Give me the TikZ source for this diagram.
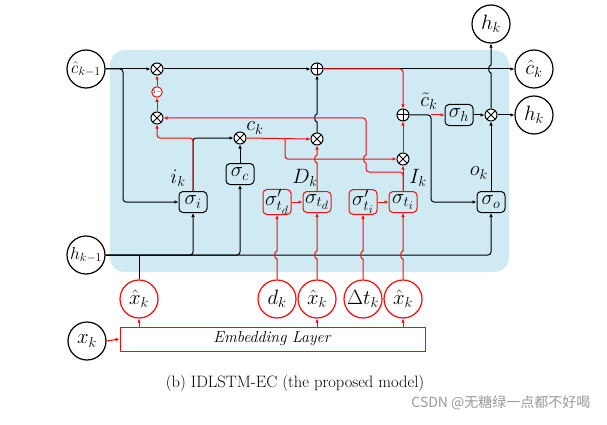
\documentclass[tikz,border=0pt]{standalone}
\usepackage{fontspec}
\newfontfamily\cjkfont{Noto Sans CJK SC}
\usetikzlibrary{arrows.meta}
\definecolor{bg}{RGB}{208,234,244}
\definecolor{myred}{RGB}{250,10,10}
\tikzset{
  lw/.style={line width=1pt},
  arr/.style={lw,-{Latex[length=4pt,width=3.5pt]}},
  rc/.style={rounded corners=3pt},
  big/.style={circle,draw,line width=1.2pt,minimum size=38pt,inner sep=0pt,fill=white,font=\fontsize{20.74}{24}\selectfont},
  bigred/.style={big,draw=myred},
  ot/.style={circle,draw,line width=1pt,minimum size=12pt,inner sep=0pt,fill=white,
    path picture={\draw[line width=1pt] (path picture bounding box.north west)--(path picture bounding box.south east) (path picture bounding box.south west)--(path picture bounding box.north east);}},
  op/.style={circle,draw,line width=1pt,minimum size=12pt,inner sep=0pt,fill=white,
    path picture={\draw[line width=1pt] (path picture bounding box.north)--(path picture bounding box.south) (path picture bounding box.west)--(path picture bounding box.east);}},
  onec/.style={circle,draw=myred,line width=1pt,minimum size=10pt,inner sep=0pt,fill=white,font=\fontsize{6}{7}\selectfont},
  gate/.style={rectangle,rounded corners=4pt,draw,line width=1pt,minimum width=28pt,minimum height=21pt,inner sep=0.5pt,font=\fontsize{20.74}{24}\selectfont},
  rgate/.style={gate,draw=myred},
  lab/.style={inner sep=0pt,font=\fontsize{20.74}{24}\selectfont},
}
\begin{document}
\begin{tikzpicture}[x=1pt,y=-1pt]
\useasboundingbox (0,0) rectangle (607,425);
\fill[bg,rounded corners=15pt] (110,50) rectangle (509,272);

% nodes
\node[big,font=\fontsize{17.28}{20}\selectfont] (ckm1) at (86,69) {$\hat c_{k-1}$};
\node[big,font=\fontsize{17.28}{20}\selectfont] (hkm1) at (86,255) {$h_{k-1}$};
\node[big] (xk) at (87,341) {$x_k$};
\node[big] (hkt) at (491,24) {$h_k$};
\node[big] (ck) at (534,69) {$\hat c_k$};
\node[big] (hkr) at (534,115) {$h_k$};

\node[ot] (om1) at (157,69) {};
\node[onec] (one) at (157,92) {$1-$};
\node[ot] (om2) at (157,118) {};
\node[op] (op) at (317,69) {};
\node[ot] (ock) at (240,138) {};
\node[ot] (od) at (317,139) {};
\node[op] (opc) at (403,115) {};
\node[ot] (oi) at (403,159) {};
\node[ot] (oh) at (491,115) {};

\node[gate] (sh) at (459,115) {$\sigma_h$};
\node[gate] (so) at (491,202) {$\sigma_o$};
\node[gate] (si) at (193,202) {$\sigma_i$};
\node[gate] (sc) at (240,174) {$\sigma_c$};
\node[rgate] (stdp) at (277,202) {$\sigma'_{t_d}$};
\node[rgate] (std) at (317,202) {$\sigma_{t_d}$};
\node[rgate] (stip) at (363,202) {$\sigma'_{t_i}$};
\node[rgate] (sti) at (403,202) {$\sigma_{t_i}$};

\node[bigred] (x1) at (139,299) {$\hat{x}_k$};
\node[bigred] (dk) at (277,299) {$d_k$};
\node[bigred] (x2) at (317,299) {$\hat{x}_k$};
\node[bigred] (dt) at (363,299) {$\Delta t_k$};
\node[bigred] (x3) at (403,299) {$\hat{x}_k$};
\node[draw=myred,line width=1pt,minimum width=305pt,minimum height=24pt,inner sep=0pt,font=\fontsize{16}{18}\selectfont] (emb) at (272.5,339) {\textit{Embedding Layer}};

\node[lab] (lik) at (178,178) {$i_k$};
\node[lab] (lck) at (255,128) {$c_k$};
\node[lab] (ldk) at (305,178) {$D_k$};
\node[lab] (lIk) at (418,178) {$I_k$};
\node[lab] (lok) at (479,173) {$o_k$};
\node[lab] (lct) at (429,101) {$\tilde c_k$};

% black connectors
\draw[arr] (ckm1.east) -- (om1.west);
\draw[arr,rc] (ckm1.east) -- (123,69) -- (123,202) -- (si.west);
\draw[arr] (om1.east) -- (op.west);
\draw[arr] (op.east) -- (ck.west);
\draw[arr,rc] (hkm1.east) -| (si.south);
\draw[arr,rc] (hkm1.east) -| (sc.south);
\draw[arr,rc] (hkm1.east) -| (so.south);
\draw[lw] (x1.north) -- (139,255);
\draw[arr] (sc.north) -- (ock.south);
\draw[arr,rc] (si.north) |- (ock.west);
\draw[arr] (od.north) -- (317,122) to[out=180,in=180] (317,114) -- (op.south);
\draw[arr,rc] (opc.east) -- (431,115) |- (so.west);
\draw[arr] (sh.east) -- (oh.west);
\draw[arr] (so.north) -- (oh.south);
\draw[arr] (oh.east) -- (hkr.west);
\draw[arr] (oh.north) -- (491,73) to[out=180,in=180] (491,65) -- (hkt.south);

% red connectors
\draw[arr,myred] (431,115) -- (sh.west);
\draw[arr,myred] (om2.north) -- (one.south);
\draw[arr,myred] (one.north) -- (om1.south);
\draw[arr,myred,rc] (si.north) -- (193,138) -| (om2.south);
\draw[arr,myred] (ock.east) -- (od.west);
\draw[arr,myred,rc] (285,138) |- (oi.west);
\draw[arr,myred] (std.north) -- (317,163) to[out=180,in=180] (317,155) -- (od.south);
\draw[arr,myred] (oi.north) -- (opc.south);
\draw[arr,myred,rc] (op.east) -| (opc.north);
\draw[arr,myred] (sti.north) -- (oi.south);
\draw[lw,myred,rc] (sti.north) -- (403,172) -- (366,172) -- (366,163);
\draw[arr,myred] (366,163) to[out=180,in=180] (366,155) [rc] -- (366,118) -- (om2.east);
\draw[arr,myred] (stdp.east) -- (std.west);
\draw[arr,myred] (stip.east) -- (sti.west);
\draw[arr,myred] (dk.north) -- (277,259) to[out=180,in=180] (277,251) -- (stdp.south);
\draw[arr,myred] (x2.north) -- (317,259) to[out=180,in=180] (317,251) -- (std.south);
\draw[arr,myred] (dt.north) -- (363,259) to[out=180,in=180] (363,251) -- (stip.south);
\draw[arr,myred] (x3.north) -- (403,259) to[out=180,in=180] (403,251) -- (sti.south);
\draw[arr,myred] (xk.east) -- (emb.west);
\draw[arr,myred] (emb.north -| x1) -- (x1.south);
\draw[arr,myred] (emb.north -| x2) -- (x2.south);
\draw[arr,myred] (emb.north -| x3) -- (x3.south);

\node[font=\fontsize{16.5}{20}\selectfont] (cap) at (295,383) {(b) IDLSTM-EC (the proposed model)};
\node[anchor=east,text=black!40,font=\fontsize{14}{16}\selectfont\cjkfont] (wm) at (594,403) {CSDN @无糖绿一点都不好喝};
\end{tikzpicture}
\end{document}
